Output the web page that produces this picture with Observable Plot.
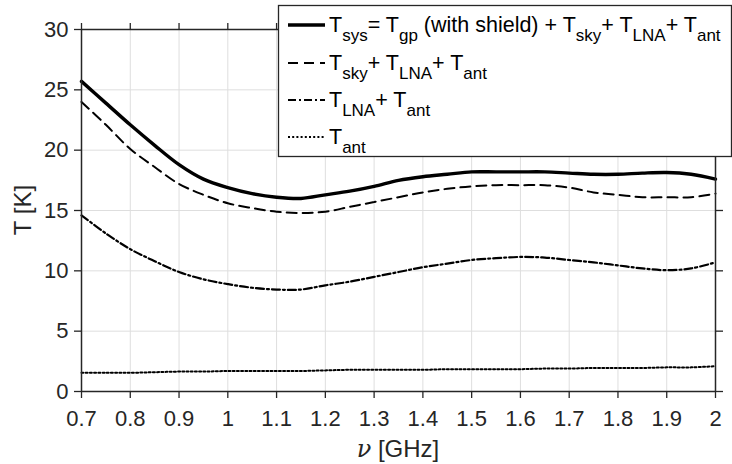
<!DOCTYPE html>
<html>
<head>
<meta charset="utf-8">
<script src="https://cdn.jsdelivr.net/npm/d3@7"></script>
<script src="https://cdn.jsdelivr.net/npm/@observablehq/plot@0.6"></script>
<style>
  html, body { margin: 0; padding: 0; background: white; }
  #chart { width: 732px; height: 464px; }
</style>
</head>
<body>
<div id="chart"></div>
<script>
const freq = [0.7,0.75,0.8,0.85,0.9,0.95,1.0,1.05,1.1,1.15,1.2,1.25,1.3,1.35,1.4,1.45,1.5,1.55,1.6,1.65,1.7,1.75,1.8,1.85,1.9,1.95,2.0];
const tSys = [25.7,23.9,22.1,20.4,18.8,17.6,16.9,16.4,16.1,16.0,16.3,16.6,17.0,17.5,17.8,18.0,18.2,18.2,18.2,18.2,18.1,18.0,18.0,18.1,18.15,18.0,17.6];
const tSkyLnaAnt = [24.0,22.1,20.1,18.6,17.2,16.3,15.6,15.2,14.9,14.8,14.9,15.3,15.7,16.1,16.5,16.8,17.0,17.1,17.1,17.1,16.9,16.5,16.3,16.1,16.1,16.1,16.4];
const tLnaAnt = [14.6,13.1,11.8,10.8,9.9,9.3,8.9,8.6,8.45,8.45,8.8,9.1,9.5,9.9,10.3,10.6,10.9,11.05,11.15,11.1,10.9,10.7,10.45,10.2,10.05,10.2,10.7];
const tAnt = [1.55,1.55,1.55,1.6,1.65,1.65,1.7,1.7,1.7,1.7,1.75,1.8,1.8,1.8,1.8,1.85,1.85,1.85,1.85,1.9,1.9,1.95,1.95,1.95,2.0,2.0,2.1];

const xTicks = [0.7,0.8,0.9,1.0,1.1,1.2,1.3,1.4,1.5,1.6,1.7,1.8,1.9,2.0];
const xTickLabels = ["0.7","0.8","0.9","1","1.1","1.2","1.3","1.4","1.5","1.6","1.7","1.8","1.9","2"];
const yTicks = [0,5,10,15,20,25,30];
const yTickLabels = ["0","5","10","15","20","25","30"];

const seriesNames = ["Tsys","TskyLnaAnt","TlnaAnt","Tant"];
const seriesValues = [tSys, tSkyLnaAnt, tLnaAnt, tAnt];
const seriesStyles = [
  {strokeWidth: 3.4, strokeDasharray: null},
  {strokeWidth: 2, strokeDasharray: "10,6"},
  {strokeWidth: 2.2, strokeDasharray: "8,3,2,3"},
  {strokeWidth: 2, strokeDasharray: "2,2.2"}
];

const FONT = "'Liberation Sans', Arial, Helvetica, sans-serif";
const AX = "#262626";

const lineMarks = seriesValues.map((vals, i) => {
  const rows = freq.map((f, j) => ({f, v: vals[j]}));
  return Plot.line(rows, {
    x: "f", y: "v", stroke: "black",
    strokeWidth: seriesStyles[i].strokeWidth,
    strokeDasharray: seriesStyles[i].strokeDasharray,
    curve: "catmull-rom"
  });
});

const svg = Plot.plot({
  width: 732, height: 464,
  marginLeft: 81, marginRight: 17, marginTop: 29, marginBottom: 73,
  x: {domain: [0.7, 2]},
  y: {domain: [0, 30]},
  style: {fontFamily: FONT, fontSize: "22px", color: AX, background: "white", overflow: "visible"},
  marks: [
    Plot.gridX(xTicks, {stroke: "#dedede", strokeOpacity: 1, strokeWidth: 1}),
    Plot.gridY(yTicks, {stroke: "#dedede", strokeOpacity: 1, strokeWidth: 1}),
    ...lineMarks,
    Plot.axisX({ticks: xTicks, tickSize: 7, tickPadding: 12, label: null, stroke: AX, strokeWidth: 1.3,
      tickFormat: d => xTickLabels[xTicks.findIndex(t => Math.abs(t - d) < 1e-9)], fontSize: 22}),
    Plot.axisY({ticks: yTicks, tickSize: 7, tickPadding: 6, label: null, stroke: AX, strokeWidth: 1.3,
      tickFormat: d => yTickLabels[yTicks.indexOf(d)], fontSize: 22}),
    Plot.axisX({anchor: "top", ticks: xTicks, tickSize: 7, tickFormat: () => "", label: null, stroke: AX, strokeWidth: 1.3}),
    Plot.axisY({anchor: "right", ticks: yTicks, tickSize: 7, tickFormat: () => "", label: null, stroke: AX, strokeWidth: 1.3}),
    Plot.ruleY([0, 30], {stroke: AX, strokeWidth: 1.5}),
    Plot.ruleX([0.7, 2], {stroke: AX, strokeWidth: 1.5})
  ]
});

document.getElementById("chart").appendChild(svg);

const s = d3.select(svg);

// axis labels
const xl = s.append("text")
  .attr("x", 398).attr("y", 457)
  .attr("text-anchor", "middle")
  .attr("font-family", FONT).attr("font-size", 24).attr("fill", AX);
xl.append("tspan").attr("font-family", "'DejaVu Serif', 'Liberation Serif', serif").attr("font-style", "italic").text("ν");
xl.append("tspan").text(" [GHz]");

s.append("text")
  .attr("transform", "translate(31,210) rotate(-90)")
  .attr("text-anchor", "middle")
  .attr("font-family", FONT).attr("font-size", 24).attr("fill", AX)
  .text("T [K]");

// legend
const legendRows = [
  [["T",0],["sys",1],["= T",0],["gp",1],[" (with shield) + T",0],["sky",1],["+ T",0],["LNA",1],["+ T",0],["ant",1]],
  [["T",0],["sky",1],["+ T",0],["LNA",1],["+ T",0],["ant",1]],
  [["T",0],["LNA",1],["+ T",0],["ant",1]],
  [["T",0],["ant",1]]
];
const lg = s.append("g").attr("text-anchor", "start");
lg.append("rect").attr("x", 278.5).attr("y", 5.5).attr("width", 453).attr("height", 151)
  .attr("fill", "white").attr("stroke", AX).attr("stroke-width", 1.3);
const rowY = [32, 70, 107, 144];
legendRows.forEach((parts, i) => {
  lg.append("line").attr("x1", 288).attr("x2", 325).attr("y1", rowY[i] - 7).attr("y2", rowY[i] - 7)
    .attr("stroke", "black").attr("stroke-width", seriesStyles[i].strokeWidth)
    .attr("stroke-dasharray", seriesStyles[i].strokeDasharray);
  const t = lg.append("text").attr("x", 329).attr("y", rowY[i])
    .attr("text-anchor", "start")
    .attr("font-family", FONT).attr("font-size", 21.5).attr("fill", "black");
  let shifted = false;
  parts.forEach(([str, sub]) => {
    const sp = t.append("tspan").text(str);
    if (sub && !shifted) { sp.attr("dy", 9).attr("font-size", 17); shifted = true; }
    else if (sub) { sp.attr("font-size", 17); }
    else if (!sub && shifted) { sp.attr("dy", -9); shifted = false; }
  });
});
</script>
</body>
</html>
